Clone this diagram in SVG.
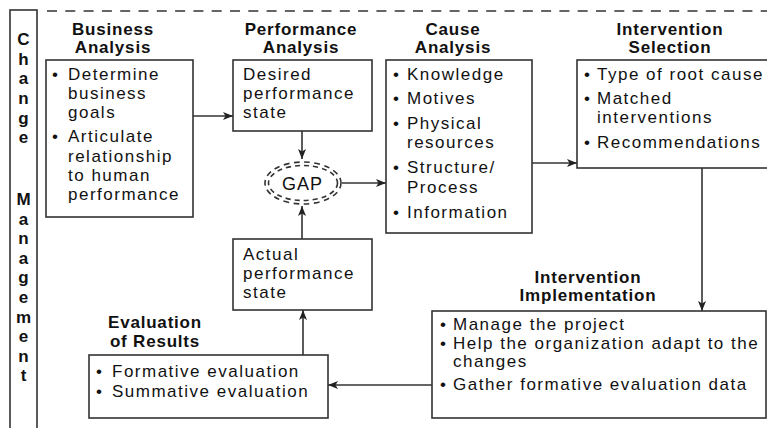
<svg xmlns="http://www.w3.org/2000/svg" width="767" height="428" viewBox="0 0 767 428">
  <style>
    .box { fill: #ffffff; stroke: #333333; stroke-width: 1.6; }
    .edge { fill: none; stroke: #333333; stroke-width: 1.6; }
    .title { font-family: "Liberation Sans", Arial, sans-serif; font-weight: bold; font-size: 17px; letter-spacing: 0.8px; fill: #111111; text-anchor: middle; }
    .body { font-family: "Liberation Sans", Arial, sans-serif; font-size: 17px; letter-spacing: 1.5px; fill: #111111; }
    .side { font-family: "Liberation Sans", Arial, sans-serif; font-weight: bold; font-size: 17px; fill: #111111; text-anchor: middle; }
    .gap { fill: none; stroke: #333333; stroke-width: 1.6; stroke-dasharray: 3 2.4; }
  </style>
  <defs>
    <marker id="arrow" markerUnits="userSpaceOnUse" markerWidth="11" markerHeight="9" refX="10" refY="4.5" orient="auto">
      <path d="M0,0.5 L10,4.5 L0,8.5 L2.5,4.5 z" fill="#222222"/>
    </marker>
  </defs>
  <rect width="767" height="428" fill="#ffffff"/>

  <!-- change management band -->
  <g id="change-management">
    <rect x="10" y="10" width="27" height="440" fill="none" stroke="#333333" stroke-width="1.6"/>
    <line x1="47" y1="11" x2="767" y2="11" stroke="#333333" stroke-width="1.6" stroke-dasharray="10 8.3"/>
    <text class="side" x="23.5" y="45">C</text>
    <text class="side" x="23.5" y="64.5">h</text>
    <text class="side" x="23.5" y="84">a</text>
    <text class="side" x="23.5" y="104">n</text>
    <text class="side" x="23.5" y="123.5">g</text>
    <text class="side" x="23.5" y="143">e</text>
    <text class="side" x="23.5" y="205">M</text>
    <text class="side" x="23.5" y="224.6">a</text>
    <text class="side" x="23.5" y="244.2">n</text>
    <text class="side" x="23.5" y="263.8">a</text>
    <text class="side" x="23.5" y="283.4">g</text>
    <text class="side" x="23.5" y="303">e</text>
    <text class="side" x="23.5" y="322.6">m</text>
    <text class="side" x="23.5" y="342.2">e</text>
    <text class="side" x="23.5" y="361.8">n</text>
    <text class="side" x="23.5" y="381.4">t</text>
  </g>

  <!-- connectors -->
  <g id="connectors">
    <line class="edge" x1="193" y1="116" x2="233" y2="116" marker-end="url(#arrow)"/>
    <line class="edge" x1="302" y1="131" x2="302" y2="159" marker-end="url(#arrow)"/>
    <line class="edge" x1="302" y1="239" x2="302" y2="206" marker-end="url(#arrow)"/>
    <line class="edge" x1="303" y1="355" x2="303" y2="310" marker-end="url(#arrow)"/>
    <line class="edge" x1="342" y1="183" x2="386" y2="183" marker-end="url(#arrow)"/>
    <line class="edge" x1="532" y1="163" x2="577" y2="163" marker-end="url(#arrow)"/>
    <line class="edge" x1="702" y1="168" x2="702" y2="311" marker-end="url(#arrow)"/>
    <line class="edge" x1="432" y1="385" x2="328" y2="385" marker-end="url(#arrow)"/>
  </g>

  <g id="business-analysis">
    <text class="title" x="113" y="35">Business</text>
    <text class="title" x="113" y="53">Analysis</text>
    <rect class="box" x="46" y="60" width="147" height="157"/>
    <text class="body" x="52" y="80">•</text>
    <text class="body" x="68" y="80">Determine</text>
    <text class="body" x="68" y="99">business</text>
    <text class="body" x="68" y="118">goals</text>
    <text class="body" x="52" y="142">•</text>
    <text class="body" x="68" y="142">Articulate</text>
    <text class="body" x="68" y="162">relationship</text>
    <text class="body" x="68" y="181">to human</text>
    <text class="body" x="68" y="200">performance</text>
  </g>

  <g id="performance-analysis">
    <text class="title" x="301" y="35">Performance</text>
    <text class="title" x="301" y="53">Analysis</text>
    <rect class="box" x="233" y="60" width="139" height="71"/>
    <text class="body" x="243" y="80">Desired</text>
    <text class="body" x="243" y="99">performance</text>
    <text class="body" x="243" y="118">state</text>
  </g>

  <g id="gap">
    <ellipse class="gap" cx="303" cy="183" rx="38" ry="21" pathLength="100"/>
    <ellipse class="gap" cx="303" cy="183" rx="34.5" ry="17.5" pathLength="100"/>
    <text class="body" x="302.5" y="190" text-anchor="middle" style="font-size:18px;letter-spacing:1px">GAP</text>
  </g>

  <g id="actual-performance">
    <rect class="box" x="233" y="239" width="139" height="71"/>
    <text class="body" x="243" y="260">Actual</text>
    <text class="body" x="243" y="279">performance</text>
    <text class="body" x="243" y="298">state</text>
  </g>

  <g id="cause-analysis">
    <text class="title" x="453" y="35">Cause</text>
    <text class="title" x="453" y="53">Analysis</text>
    <rect class="box" x="386" y="60" width="146" height="173"/>
    <text class="body" x="393" y="80">•</text>
    <text class="body" x="407" y="80">Knowledge</text>
    <text class="body" x="393" y="104">•</text>
    <text class="body" x="407" y="104">Motives</text>
    <text class="body" x="393" y="129">•</text>
    <text class="body" x="407" y="129">Physical</text>
    <text class="body" x="407" y="148">resources</text>
    <text class="body" x="393" y="173">•</text>
    <text class="body" x="407" y="173">Structure/</text>
    <text class="body" x="407" y="193">Process</text>
    <text class="body" x="393" y="218">•</text>
    <text class="body" x="407" y="218">Information</text>
  </g>

  <g id="intervention-selection">
    <text class="title" x="670" y="35">Intervention</text>
    <text class="title" x="670" y="53">Selection</text>
    <rect class="box" x="577" y="60" width="200" height="108"/>
    <text class="body" x="584" y="80">•</text>
    <text class="body" x="597" y="80">Type of root cause</text>
    <text class="body" x="584" y="104">•</text>
    <text class="body" x="597" y="104">Matched</text>
    <text class="body" x="597" y="123">interventions</text>
    <text class="body" x="584" y="148">•</text>
    <text class="body" x="597" y="148">Recommendations</text>
  </g>

  <g id="intervention-implementation">
    <text class="title" x="588" y="283">Intervention</text>
    <text class="title" x="588" y="301">Implementation</text>
    <rect class="box" x="432" y="311" width="334" height="107"/>
    <text class="body" x="440" y="330">•</text>
    <text class="body" x="453" y="330">Manage the project</text>
    <text class="body" x="440" y="349">•</text>
    <text class="body" x="453" y="349">Help the organization adapt to the</text>
    <text class="body" x="453" y="367">changes</text>
    <text class="body" x="440" y="390">•</text>
    <text class="body" x="453" y="390">Gather formative evaluation data</text>
  </g>

  <g id="evaluation-of-results">
    <text class="title" x="155" y="328">Evaluation</text>
    <text class="title" x="155" y="347">of Results</text>
    <rect class="box" x="89" y="355" width="239" height="63"/>
    <text class="body" x="96" y="377">•</text>
    <text class="body" x="112" y="377">Formative evaluation</text>
    <text class="body" x="96" y="397">•</text>
    <text class="body" x="112" y="397">Summative evaluation</text>
  </g>
</svg>
